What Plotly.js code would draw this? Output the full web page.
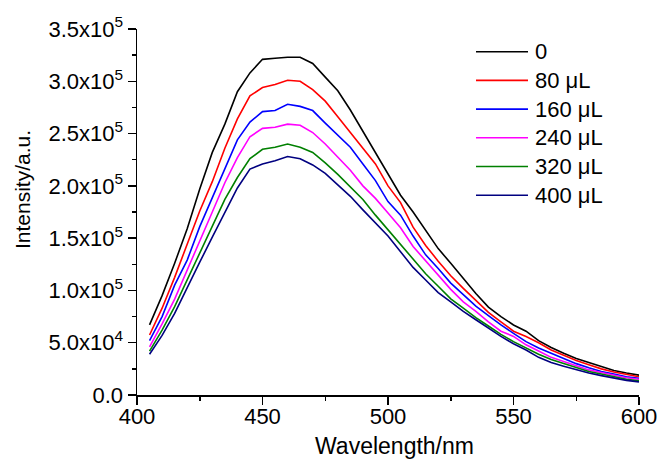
<!DOCTYPE html>
<html>
<head>
<meta charset="utf-8">
<script src="https://cdn.plot.ly/plotly-3.0.1.min.js"></script>
<style>
  html, body { margin: 0; padding: 0; background: #fff; }
  #chart { width: 662px; height: 461px; }
</style>
</head>
<body>
<div id="chart"></div>
<script>
// Wavelength grid (nm)
const wavelength = [405,410,415,420,425,430,435,440,445,450,455,460,465,470,475,480,485,490,495,500,
                    505,510,515,520,525,530,535,540,545,550,555,560,565,570,575,580,585,590,595,600];

// Series names and colours
const seriesNames = ["0", "80 μL", "160 μL", "240 μL", "320 μL", "400 μL"];
const seriesColors = ["#000000", "#ff0000", "#0000ff", "#ff00ff", "#008000", "#000080"];

// Intensity values (a.u.)
const int0 = [67000,95000,126000,159000,197000,232000,259000,290000,308000,321000,322000,323000,323000,317000,304000,291000,272500,252000,232000,212000,
              191000,175000,157000,140000,126000,111000,97000,84000,75000,67000,61000,52000,45500,40000,35000,31000,27000,23500,21000,19000];
const int80 = [57400,83000,112500,143500,176000,204000,236000,264000,286000,294000,297000,301000,300000,292000,281000,266000,251000,236000,221000,200000,
               184000,160500,143000,128000,114000,102000,90000,79000,70000,61000,56000,50000,43000,38000,33000,29000,25000,22000,19500,17500];
const int160 = [52000,75000,105000,129000,161000,189000,216000,244000,261000,271000,272000,278000,276000,272000,260000,248000,237000,221000,205000,185000,
                172000,152000,134000,121000,107000,96000,85000,76000,67000,59000,51000,45000,40000,35000,30000,26000,22500,20000,17500,16000];
const int240 = [46000,68000,91700,120000,147000,175000,203000,227000,247000,255000,256000,259000,258000,251000,240000,227000,215000,200000,188000,174000,
                160000,142000,128000,114000,101000,89000,80000,70000,61000,56000,48000,42000,36000,32000,28000,24000,21500,19000,16500,15000];
const int320 = [42000,62000,84500,110000,136000,161000,187000,208000,226000,235000,237000,240000,237000,232000,222000,211000,199000,187000,172000,158000,
                144000,130000,116000,104000,92000,83000,74000,66000,58000,51000,45000,39000,34000,30000,26000,22500,20000,17500,15000,13500];
const int400 = [39000,57000,78000,103000,127000,151000,175000,198000,216000,221000,224000,228000,226000,220000,212000,201000,190000,177000,165000,152000,
                137000,122000,110000,98000,89000,80000,72000,64000,56000,49000,43000,36000,31000,27500,24000,21000,18500,16000,14000,12500];

const seriesValues = [int0, int80, int160, int240, int320, int400];

// Tick labels
const yTickVals = [0, 50000, 100000, 150000, 200000, 250000, 300000, 350000];
const yTickText = ["0.0", "5.0x10<sup>4</sup>", "1.0x10<sup>5</sup>", "1.5x10<sup>5</sup>",
                   "2.0x10<sup>5</sup>", "2.5x10<sup>5</sup>", "3.0x10<sup>5</sup>", "3.5x10<sup>5</sup>"];
const xTickVals = [400, 450, 500, 550, 600];
const xTitle = "Wavelength/nm";
const yTitle = "Intensity/a.u.";

const FONT = "Liberation Sans, Arial, sans-serif";

const traces = seriesValues.map((vals, i) => ({
  type: "scatter",
  mode: "lines",
  x: wavelength,
  y: vals,
  name: seriesNames[i],
  line: { color: seriesColors[i], width: 1.6 },
  showlegend: false
}));

// Pixel -> paper helpers
const W = 662, H = 461;
const margin = { l: 137, r: 23, t: 29, b: 66 };
const plotW = W - margin.l - margin.r;
const plotH = H - margin.t - margin.b;
const px2x = px => (px - margin.l) / plotW;
const py2y = py => (H - margin.b - py) / plotH;

// Manual legend
const legendTop = 51.7, legendStep = 28.7;
const shapes = [];
const annotations = [];
seriesNames.forEach((n, i) => {
  const yy = py2y(legendTop + i * legendStep);
  shapes.push({
    type: "line", xref: "paper", yref: "paper",
    x0: px2x(476), x1: px2x(528), y0: yy, y1: yy,
    line: { color: seriesColors[i], width: 1.6 }
  });
  annotations.push({
    xref: "paper", yref: "paper", x: px2x(533), y: yy,
    xanchor: "left", yanchor: "middle", showarrow: false,
    text: n, font: { family: FONT, size: 22, color: "#000" }
  });
});

// Axis titles
annotations.push({
  xref: "paper", yref: "paper", x: px2x(394), y: py2y(446),
  xanchor: "center", yanchor: "middle", showarrow: false,
  text: xTitle, font: { family: FONT, size: 23, color: "#000" }
});
annotations.push({
  xref: "paper", yref: "paper", x: px2x(22), y: py2y(190),
  xanchor: "center", yanchor: "middle", showarrow: false, textangle: -90,
  text: yTitle, font: { family: FONT, size: 21, color: "#000" }
});

const layout = {
  width: W, height: H,
  margin: margin,
  paper_bgcolor: "#ffffff",
  plot_bgcolor: "#ffffff",
  font: { family: FONT, size: 22, color: "#000" },
  showlegend: false,
  xaxis: {
    range: [400, 600],
    tickmode: "array", tickvals: xTickVals,
    ticks: "outside", ticklen: 8, tickwidth: 1.5, tickcolor: "#000",
    ticklabelstandoff: -7,
    minor: { dtick: 25, tick0: 400, ticks: "outside", ticklen: 4, tickwidth: 1.5, tickcolor: "#000", showgrid: false },
    showline: true, linewidth: 1.5, linecolor: "#000",
    showgrid: false, zeroline: false,
    tickfont: { family: FONT, size: 22 }
  },
  yaxis: {
    range: [0, 350000],
    tickmode: "array", tickvals: yTickVals, ticktext: yTickText,
    ticks: "outside", ticklen: 8, tickwidth: 1.5, tickcolor: "#000",
    minor: { dtick: 25000, tick0: 0, ticks: "outside", ticklen: 4, tickwidth: 1.5, tickcolor: "#000", showgrid: false },
    showline: true, linewidth: 1.5, linecolor: "#000",
    showgrid: false, zeroline: false,
    tickfont: { family: FONT, size: 22 }
  },
  shapes: shapes,
  annotations: annotations
};

Plotly.newPlot("chart", traces, layout, { displayModeBar: false, staticPlot: true });
</script>
</body>
</html>
